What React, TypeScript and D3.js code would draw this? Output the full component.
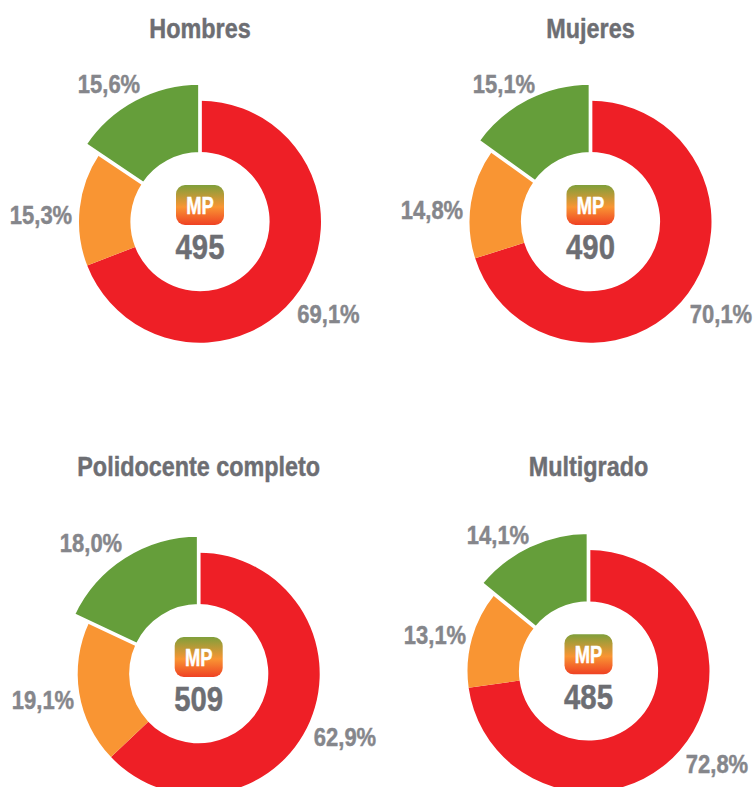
import React from "react";
import * as d3 from "d3";

const categories = ["Rojo", "Naranja", "Verde"];
const colors = ["#EE1F26", "#F99533", "#659E3A"];
const titles = ["Hombres", "Mujeres", "Polidocente completo", "Multigrado"];
const hombres = [69.1, 15.3, 15.6];
const mujeres = [70.1, 14.8, 15.1];
const polidocente = [62.9, 19.1, 18.0];
const multigrado = [72.8, 13.1, 14.1];
const scores = [495, 490, 509, 485];
const seriesList = [hombres, mujeres, polidocente, multigrado];

// layout only
const centers = [[200, 221.7], [590.5, 221.7], [198.7, 673.7], [588.5, 671]];
const titleY = [37.5, 37.5, 475.5, 475.5];
const labelPos = [
  [[328.5, 322.5], [41, 223.5], [109, 92.5]],
  [[721, 322.5], [432, 218.5], [504, 92.5]],
  [[345, 745.5], [43, 708.5], [91, 551.5]],
  [[717, 772.5], [435, 643.5], [498, 543.5]],
];
const R = 121, r = 69.6, Rx = 137;
const FONT = "'Liberation Sans', sans-serif";

const fmt = (v: number) => v.toFixed(1).replace(".", ",") + "%";
const pie = d3.pie<number>().sort(null).value((d) => d);

function T({ x, y, sx, size, fill, children }: { x: number; y: number; sx: number; size: number; fill: string; children: React.ReactNode }) {
  return (
    <text transform={`translate(${x},${y}) scale(${sx},1)`} textAnchor="middle" fontSize={size} fill={fill} stroke={fill} strokeWidth={0.45}>{children}</text>
  );
}

export default function App() {
  return (
    <svg width={753} height={787} viewBox="0 0 753 787" style={{ position: "absolute", left: 0, top: 0, background: "#fff" }} fontFamily={FONT} fontWeight={700}>
      <defs>
        <linearGradient id="mp" x1="0" y1="0" x2="0" y2="1">
          <stop offset="0" stopColor="#7F9F3B" />
          <stop offset="0.55" stopColor="#F99533" />
          <stop offset="1" stopColor="#EF4123" />
        </linearGradient>
      </defs>
      {seriesList.map((vals, i) => {
        const [cx, cy] = centers[i];
        const arcs = pie(vals);
        return (
          <g key={titles[i]}>
            <T x={cx} y={titleY[i]} sx={0.85} size={27.5} fill="#6D6E73">{titles[i]}</T>
            <g transform={`translate(${cx},${cy})`}>
              {arcs.map((a, j) => {
                const highlighted = j === 2;
                const path = d3.arc<d3.PieArcDatum<number>>()
                  .innerRadius(highlighted ? r - 1.8 : r)
                  .outerRadius(highlighted ? Rx + 1.8 : R)(a) as string;
                return (
                  <path key={categories[j]} d={path} fill={colors[j]}
                    stroke={highlighted ? "#fff" : "none"} strokeWidth={highlighted ? 3.7 : 0} />
                );
              })}
              <rect x={-24} y={-36.7} width={48} height={40} rx={9} fill="url(#mp)" />
              <T x={0} y={-8} sx={0.8} size={23} fill="#fff">MP</T>
              <T x={0} y={37.6} sx={0.85} size={34.5} fill="#6D6E73">{scores[i]}</T>
            </g>
            {vals.map((v, j) => (
              <T key={j} x={labelPos[i][j][0]} y={labelPos[i][j][1]} sx={0.83} size={26.5} fill="#85868B">{fmt(v)}</T>
            ))}
          </g>
        );
      })}
    </svg>
  );
}
